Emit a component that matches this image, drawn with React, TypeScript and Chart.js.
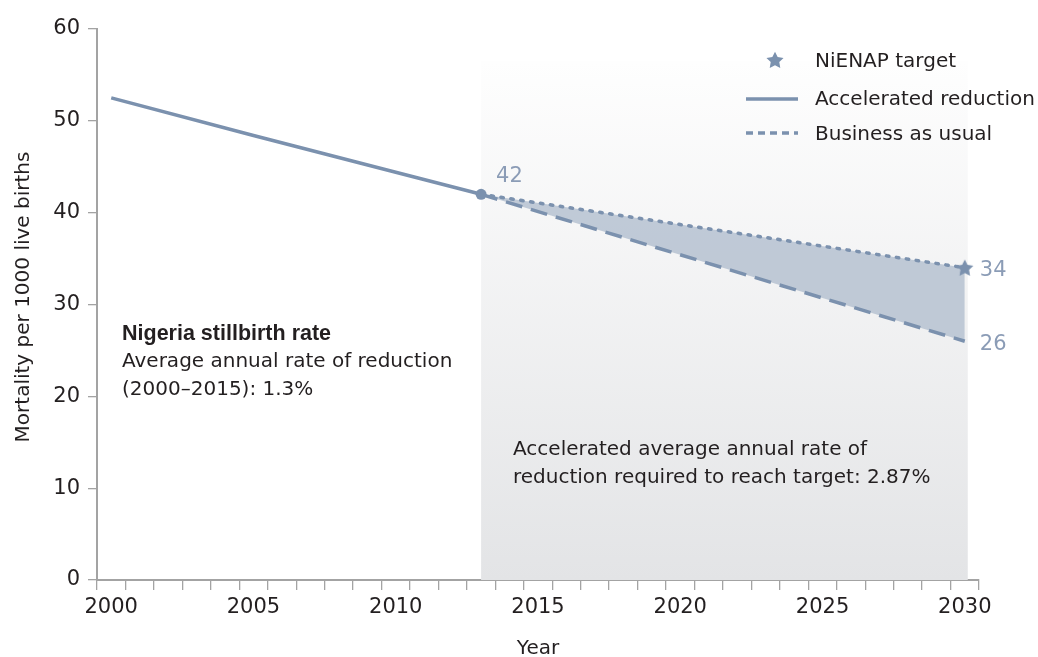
import { useEffect, useRef } from 'react';
import { Chart, registerables } from 'chart.js';

Chart.register(...registerables);

// ---------- data ----------
const YEARS = [
  '2000', '2001', '2002', '2003', '2004', '2005', '2006', '2007', '2008', '2009',
  '2010', '2011', '2012', '2013', '2014', '2015', '2016', '2017', '2018', '2019',
  '2020', '2021', '2022', '2023', '2024', '2025', '2026', '2027', '2028', '2029', '2030',
];
const Y_TICKS = [0, 10, 20, 30, 40, 50, 60];

const HIST_YEARS = ['2000', '2005', '2010', '2013'];
const HIST_VALUES = [52.5, 48.4, 44.4, 42.0];

const TARGET_YEARS = ['2013', '2030'];
const TARGET_VALUES = [42, 34];

const BAU_YEARS = ['2013', '2030'];
const BAU_VALUES = [42, 26];

const SHADE_FROM = '2013';
const SHADE_TO = '2030';
const SHADE_TOP = 56.5;

// ---------- style ----------
const FONT = '"DejaVu Sans", sans-serif';
const TEXT = '#231f20';
const AXIS = '#a3a3a3';
const LINE = '#7b91ae';
const FILL = 'rgba(179,192,208,0.82)';
const LABEL = '#8b9cb6';

function makeStar(r: number, color: string) {
  const size = Math.ceil(r * 2 + 2);
  const c = document.createElement('canvas');
  c.width = size;
  c.height = size;
  const g = c.getContext('2d')!;
  g.fillStyle = color;
  g.beginPath();
  for (let i = 0; i < 10; i++) {
    const rad = i % 2 === 0 ? r : r * 0.5;
    const a = -Math.PI / 2 + (i * Math.PI) / 5;
    const px = size / 2 + rad * Math.cos(a);
    const py = size / 2 + rad * Math.sin(a) + r * 0.08;
    if (i === 0) g.moveTo(px, py);
    else g.lineTo(px, py);
  }
  g.closePath();
  g.fill();
  return c;
}

export default function App() {
  const ref = useRef<HTMLCanvasElement | null>(null);

  useEffect(() => {
    if (!ref.current) return;
    const bigStar = makeStar(9, LINE);
    const smallStar = makeStar(9, LINE);

    const decor = {
      id: 'decor',
      beforeDatasetsDraw(chart: any) {
        const { ctx, chartArea, scales } = chart;
        const x = scales.x;
        const y = scales.y;
        const x0 = x.getPixelForValue(YEARS.indexOf(SHADE_FROM));
        const x1 = x.getPixelForValue(YEARS.indexOf(SHADE_TO)) + 3;
        const top = y.getPixelForValue(SHADE_TOP);
        const g = ctx.createLinearGradient(0, top, 0, chartArea.bottom);
        g.addColorStop(0, '#fefefe');
        g.addColorStop(1, '#e3e4e6');
        ctx.save();
        ctx.fillStyle = g;
        ctx.fillRect(x0, top, x1 - x0, chartArea.bottom - top);
        ctx.restore();
      },
      afterDraw(chart: any) {
        const { ctx, scales } = chart;
        const x = scales.x;
        const y = scales.y;
        ctx.save();
        // value labels
        ctx.fillStyle = LABEL;
        ctx.font = `21px ${FONT}`;
        ctx.textBaseline = 'alphabetic';
        ctx.textAlign = 'left';
        const xs = x.getPixelForValue(YEARS.indexOf('2013'));
        const xe = x.getPixelForValue(YEARS.indexOf('2030'));
        ctx.fillText(String(TARGET_VALUES[0]), xs + 15, y.getPixelForValue(TARGET_VALUES[0]) - 12);
        ctx.fillText(String(TARGET_VALUES[1]), xe + 15, y.getPixelForValue(TARGET_VALUES[1]) + 8);
        ctx.fillText(String(BAU_VALUES[1]), xe + 15, y.getPixelForValue(BAU_VALUES[1]) + 9);

        // annotations
        ctx.fillStyle = TEXT;
        ctx.font = `bold 21.5px "Liberation Sans", Arial, sans-serif`;
        ctx.fillText('Nigeria stillbirth rate', 122, 340);
        ctx.font = `20px ${FONT}`;
        ctx.fillText('Average annual rate of reduction', 122, 367);
        ctx.fillText('(2000–2015): 1.3%', 122, 395);
        ctx.fillText('Accelerated average annual rate of', 513, 455);
        ctx.fillText('reduction required to reach target: 2.87%', 513, 483);

        // legend
        ctx.drawImage(smallStar, 775 - smallStar.width / 2, 60 - smallStar.height / 2);
        ctx.fillText('NiENAP target', 815, 67);
        ctx.strokeStyle = LINE;
        ctx.lineWidth = 3.5;
        ctx.beginPath();
        ctx.moveTo(746, 99);
        ctx.lineTo(798, 99);
        ctx.stroke();
        ctx.fillText('Accelerated reduction', 815, 105);
        ctx.setLineDash([7, 5]);
        ctx.beginPath();
        ctx.moveTo(746, 133);
        ctx.lineTo(798, 133);
        ctx.stroke();
        ctx.setLineDash([]);
        ctx.fillText('Business as usual', 815, 140);

        // axis titles
        ctx.textAlign = 'center';
        ctx.fillText('Year', (x.left + x.right) / 2, 654);
        ctx.translate(29, 297);
        ctx.rotate(-Math.PI / 2);
        ctx.fillText('Mortality per 1000 live births', 0, 0);
        ctx.restore();
      },
    };

    const toPoints = (ys: string[], vs: number[]) => ys.map((yr, i) => ({ x: yr, y: vs[i] }));

    const chart = new Chart(ref.current, {
      type: 'line',
      data: {
        labels: YEARS,
        datasets: [
          {
            label: 'Stillbirth rate',
            data: toPoints(HIST_YEARS, HIST_VALUES) as any,
            borderColor: LINE,
            backgroundColor: LINE,
            borderWidth: 3.5,
            pointRadius: (c: any) => (c.raw && c.raw.x === '2013' ? 5.5 : 0),
            pointBackgroundColor: LINE,
            pointBorderWidth: 0,
            fill: false,
            tension: 0,
          },
          {
            label: 'NiENAP target',
            data: toPoints(TARGET_YEARS, TARGET_VALUES) as any,
            borderColor: LINE,
            borderWidth: 3.5,
            borderDash: [2.5, 7.5],
            borderCapStyle: 'round',
            pointStyle: (c: any) => (c.raw && c.raw.x === '2030' ? bigStar : 'circle') as any,
            pointRadius: (c: any) => (c.raw && c.raw.x === '2030' ? 10 : 0),
            fill: false,
            tension: 0,
          },
          {
            label: 'Business as usual',
            data: toPoints(BAU_YEARS, BAU_VALUES) as any,
            borderColor: LINE,
            backgroundColor: FILL,
            borderWidth: 3.5,
            borderDash: [17, 9],
            pointRadius: 0,
            fill: 1,
            tension: 0,
          },
        ],
      },
      options: {
        responsive: false,
        animation: false,
        layout: { padding: { left: 0, right: 59, top: 29, bottom: 0 } },
        plugins: {
          legend: { display: false },
          tooltip: { enabled: false },
        },
        scales: {
          x: {
            type: 'category',
            offset: true,
            grid: {
              offset: true,
              drawOnChartArea: false,
              drawTicks: true,
              tickLength: 10,
              color: AXIS,
              lineWidth: 1.3,
            },
            border: { display: true, color: AXIS, width: 2 },
            ticks: {
              autoSkip: false,
              maxRotation: 0,
              padding: 5,
              color: TEXT,
              font: { family: FONT, size: 21 },
              callback: (_v: any, i: number) => (Number(YEARS[i]) % 5 === 0 ? YEARS[i] : ''),
            },
            afterFit: (s: any) => {
              s.height = 77;
            },
          },
          y: {
            min: 0,
            max: 60,
            afterBuildTicks: (s: any) => {
              s.ticks = Y_TICKS.map((v) => ({ value: v }));
            },
            grid: {
              drawOnChartArea: false,
              drawTicks: true,
              tickLength: 9,
              color: AXIS,
              lineWidth: 1.3,
            },
            border: { display: true, color: AXIS, width: 2 },
            ticks: {
              padding: 8,
              color: TEXT,
              font: { family: FONT, size: 21 },
            },
            afterFit: (s: any) => {
              s.width = 97;
            },
          },
        },
      },
      plugins: [decor],
    });

    return () => chart.destroy();
  }, []);

  return (
    <div style={{ position: 'fixed', left: 0, top: 0, width: 1038, height: 657, background: '#fff' }}>
      <canvas ref={ref} width={1038} height={657} style={{ display: 'block' }} />
    </div>
  );
}
